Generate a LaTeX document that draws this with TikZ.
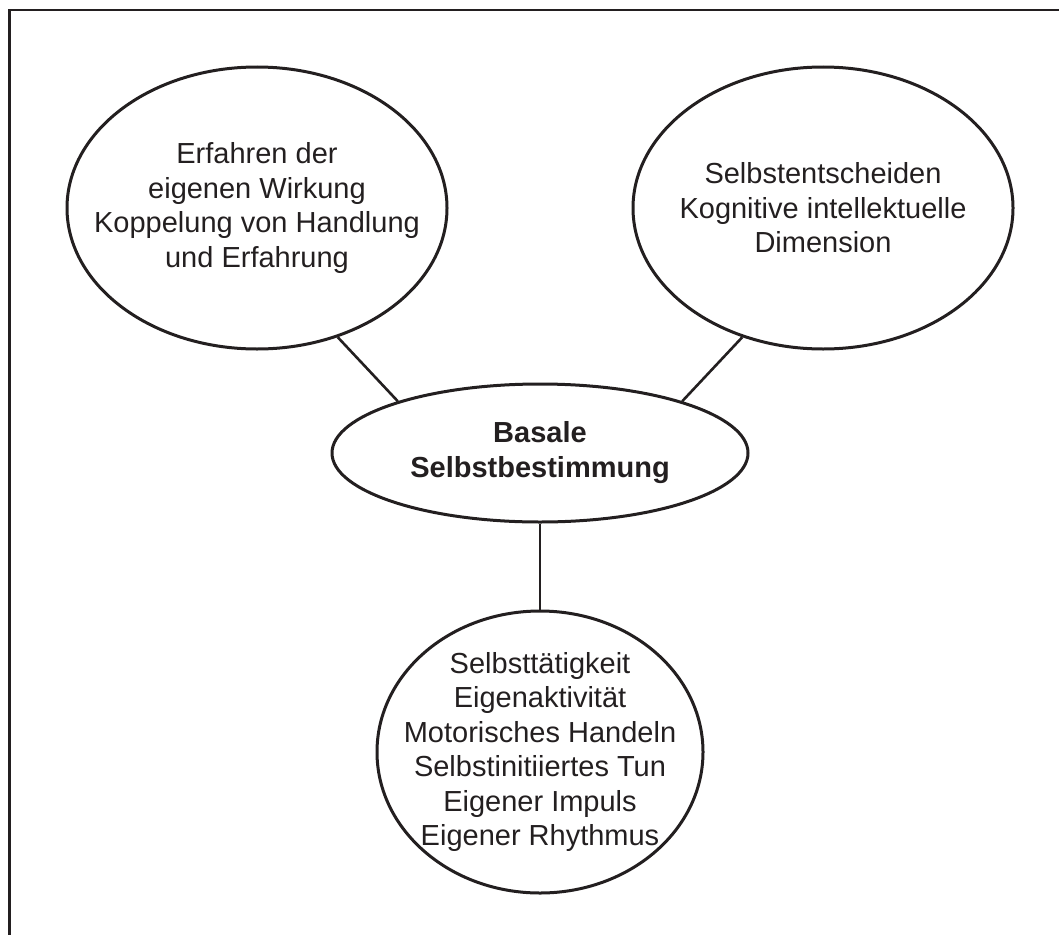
\documentclass[tikz,border=0pt]{standalone}
\usepackage{fontspec}
\setmainfont{Liberation Sans}
\usetikzlibrary{shapes.geometric}
\definecolor{ink}{RGB}{35,31,32}
\begin{document}
\begin{tikzpicture}[x=1pt,y=-1pt,
  oval/.style={draw=ink, line width=3pt, ellipse, inner sep=0pt},
  txt/.style={text=ink, align=center, inner sep=0pt, font=\fontsize{29}{34.5}\selectfont},
  bold/.style={txt, font=\fontsize{29}{35}\selectfont\bfseries},
  link/.style={draw=ink, line width=2.6pt}]
\useasboundingbox (0,0) rectangle (1059,934);
\draw[ink, line width=2.8pt] (1062,10) -- (9.5,10) -- (9.5,937);
\node[oval, minimum width=380pt, minimum height=282pt] (e1) at (257,208) {};
\node[txt] (t1) at (e1.center) {Erfahren der\\eigenen Wirkung\\Koppelung von Handlung\\und Erfahrung};
\node[oval, minimum width=380pt, minimum height=282pt] (e2) at (823,208) {};
\node[txt] (t2) at (e2.center) {Selbstentscheiden\\Kognitive intellektuelle\\Dimension};
\node[oval, minimum width=416pt, minimum height=138pt] (c) at (540,453) {};
\node[bold] (tc) at (c.center) {Basale\\Selbstbestimmung};
\node[oval, minimum width=326pt, minimum height=282pt] (e3) at (540,752) {};
\node[txt] (t3) at (e3.center) {Selbsttätigkeit\\Eigenaktivität\\Motorisches Handeln\\Selbstinitiiertes Tun\\Eigener Impuls\\Eigener Rhythmus};
\draw[link] (e1.-58) -- (c.160);
\draw[link] (e2.-122) -- (c.20);
\draw[link] (c.south) -- (e3.north);
\end{tikzpicture}
\end{document}
